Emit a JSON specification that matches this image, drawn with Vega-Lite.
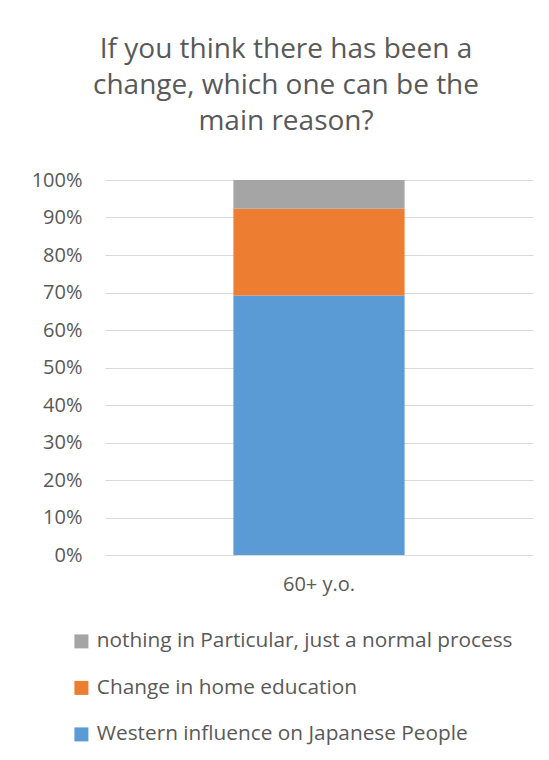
{
  "$schema": "https://vega.github.io/schema/vega-lite/v6.json",
  "width": 428,
  "height": 375,
  "autosize": {"type": "none"},
  "padding": {"left": 105, "top": 180, "right": 16, "bottom": 205},
  "background": "white",
  "title": {
    "text": ["If you think there has been a", "change, which one can be the", "main reason?"],
    "fontSize": 28,
    "font": "Open Sans",
    "fontWeight": "normal",
    "color": "#595959",
    "lineHeight": 36,
    "anchor": "middle",
    "frame": "group",
    "dx": -33,
    "offset": 34
  },
  "data": {
    "values": [
      {"group": "60+ y.o.", "reason": "Western influence on Japanese People", "share": 0.6923},
      {"group": "60+ y.o.", "reason": "Change in home education", "share": 0.2308},
      {"group": "60+ y.o.", "reason": "nothing in Particular, just a normal process", "share": 0.0769}
    ]
  },
  "mark": {"type": "bar", "width": {"band": 0.4}},
  "encoding": {
    "x": {
      "field": "group",
      "type": "nominal",
      "scale": {"paddingInner": 0, "paddingOuter": 0},
      "axis": {
        "title": null,
        "labelAngle": 0,
        "ticks": false,
        "domain": false,
        "labelPadding": 19,
        "labelFontSize": 20,
        "labelFont": "Open Sans",
        "labelColor": "#595959"
      }
    },
    "y": {
      "field": "share",
      "type": "quantitative",
      "stack": "zero",
      "scale": {"domain": [0, 1]},
      "axis": {
        "title": null,
        "format": ".0%",
        "values": [0, 0.1, 0.2, 0.3, 0.4, 0.5, 0.6, 0.7, 0.8, 0.9, 1],
        "ticks": false,
        "domain": false,
        "labelPadding": 23,
        "labelFontSize": 20,
        "labelFont": "Open Sans",
        "labelColor": "#595959",
        "gridColor": "#d9d9d9",
        "gridWidth": 1
      }
    },
    "order": {"field": "share", "sort": "descending"},
    "color": {
      "field": "reason",
      "type": "nominal",
      "scale": {
        "domain": ["nothing in Particular, just a normal process", "Change in home education", "Western influence on Japanese People"],
        "range": ["#a5a5a5", "#ed7d31", "#5b9bd5"]
      },
      "legend": {
        "title": null,
        "orient": "none",
        "direction": "vertical",
        "legendX": -34,
        "legendY": 451,
        "padding": 0,
        "symbolType": "square",
        "symbolSize": 196,
        "symbolStrokeWidth": 0,
        "labelOffset": 5,
        "labelFontSize": 20.8,
        "labelFont": "Open Sans",
        "labelColor": "#595959",
        "labelLimit": 520,
        "rowPadding": 24.5
      }
    }
  },
  "config": {
    "view": {"stroke": null}
  }
}
